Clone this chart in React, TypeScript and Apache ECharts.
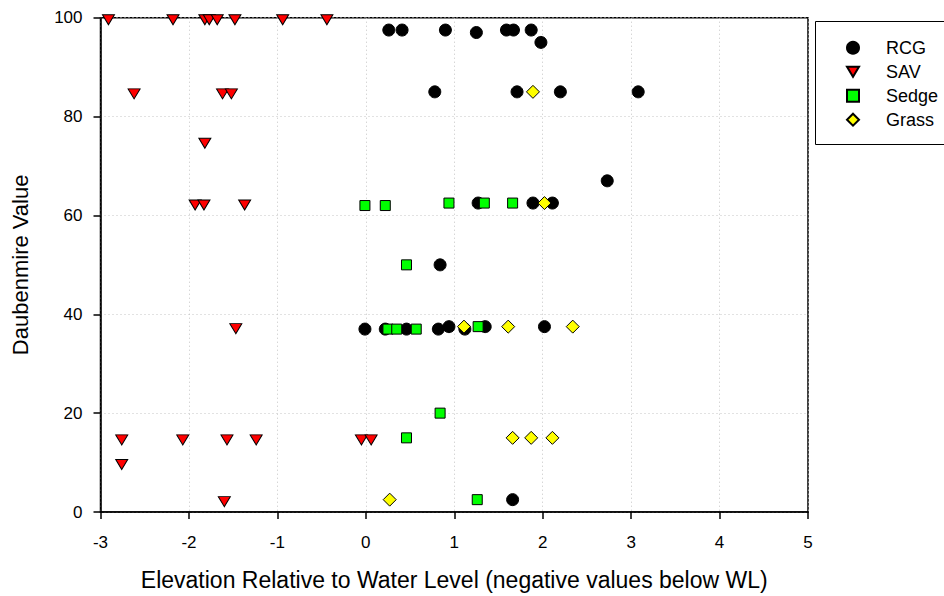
import React, { useEffect, useRef } from "react";
import * as echarts from "echarts";

const xTicks = [-3, -2, -1, 0, 1, 2, 3, 4, 5];
const yTicks = [0, 20, 40, 60, 80, 100];

const seriesNames = ["RCG", "SAV", "Sedge", "Grass"];

const rcgData: [number, number][] = [
  [0.26, 97.5], [0.41, 97.5], [0.9, 97.5], [1.25, 97], [1.59, 97.5], [1.67, 97.5], [1.87, 97.5], [1.98, 95],
  [0.78, 85], [1.71, 85], [2.2, 85], [3.08, 85],
  [2.73, 67],
  [1.27, 62.5], [1.89, 62.5], [2.11, 62.5],
  [0.84, 50],
  [-0.01, 37], [0.22, 37], [0.46, 37], [0.82, 37], [0.94, 37.5], [1.12, 37], [1.35, 37.5], [2.02, 37.5],
  [1.66, 2.5],
];

const savData: [number, number][] = [
  [-2.91, 100], [-2.18, 100], [-1.82, 100], [-1.77, 100], [-1.68, 100], [-1.48, 100], [-0.94, 100], [-0.44, 100],
  [-2.62, 85], [-1.62, 85], [-1.52, 85],
  [-1.82, 75],
  [-1.93, 62.5], [-1.83, 62.5], [-1.37, 62.5],
  [-1.47, 37.5],
  [-2.76, 15], [-2.07, 15], [-1.57, 15], [-1.24, 15], [-0.05, 15], [0.06, 15],
  [-2.76, 10],
  [-1.6, 2.5],
];

const sedgeData: [number, number][] = [
  [-0.01, 62], [0.22, 62],
  [0.94, 62.5], [1.34, 62.5], [1.66, 62.5],
  [0.46, 50],
  [0.25, 37], [0.35, 37], [0.57, 37],
  [1.27, 37.5],
  [0.84, 20],
  [0.46, 15],
  [1.26, 2.5],
];

const grassData: [number, number][] = [
  [1.89, 85],
  [2.02, 62.5],
  [1.11, 37.5], [1.61, 37.5], [2.34, 37.5],
  [1.66, 15], [1.87, 15], [2.11, 15],
  [0.27, 2.5],
];

const FONT = "'Liberation Sans', Arial, sans-serif";
const DOWN_TRIANGLE = "path://M0,0L12,0L6,10Z";

export default function App() {
  const ref = useRef<HTMLDivElement>(null);

  useEffect(() => {
    if (!ref.current) return;
    const chart = echarts.init(ref.current, undefined, { renderer: "svg" });
    const border = { borderColor: "#000", borderWidth: 1, opacity: 1 };
    chart.setOption({
      animation: false,
      backgroundColor: "#fff",
      textStyle: { fontFamily: FONT },
      grid: {
        left: 100.5,
        right: 136,
        top: 17.7,
        bottom: 83.3,
        show: true,
        borderColor: "#000",
        borderWidth: 1.5,
        backgroundColor: "transparent",
      },
      xAxis: {
        type: "value",
        min: xTicks[0],
        max: xTicks[xTicks.length - 1],
        interval: 1,
        name: "Elevation Relative to Water Level (negative values below WL)",
        nameLocation: "middle",
        nameGap: 56,
        nameTextStyle: { fontSize: 23, color: "#000", fontFamily: FONT },
        axisLine: { onZero: false, lineStyle: { color: "#000", width: 1.5 } },
        axisTick: { show: true, inside: false, length: 7, lineStyle: { color: "#000", width: 1.5 } },
        axisLabel: { fontSize: 17, color: "#000", margin: 22, fontFamily: FONT },
        splitLine: { show: true, lineStyle: { color: "#c4c4c4", type: [1, 3], width: 1 } },
      },
      yAxis: {
        type: "value",
        min: yTicks[0],
        max: yTicks[yTicks.length - 1],
        interval: 20,
        name: "Daubenmire Value",
        nameLocation: "middle",
        nameGap: 69,
        nameTextStyle: { fontSize: 22, color: "#000", fontFamily: FONT },
        axisLine: { onZero: false, lineStyle: { color: "#000", width: 1.5 } },
        axisTick: { show: true, inside: false, length: 7, lineStyle: { color: "#000", width: 1.5 } },
        axisLabel: { fontSize: 17, color: "#000", margin: 18, fontFamily: FONT },
        splitLine: { show: true, lineStyle: { color: "#c4c4c4", type: [1, 3], width: 1 } },
      },
      legend: {
        orient: "vertical",
        left: 841,
        top: 33.7,
        itemWidth: 12,
        itemHeight: 12,
        itemGap: 6,
        symbolKeepAspect: true,
        textStyle: { fontSize: 18, color: "#000", fontFamily: FONT, padding: [0, 0, 0, 22] },
        data: [
          { name: seriesNames[0], icon: "circle" },
          { name: seriesNames[1], icon: DOWN_TRIANGLE },
          { name: seriesNames[2], icon: "rect" },
          { name: seriesNames[3], icon: "diamond" },
        ],
      },
      graphic: [
        {
          type: "rect",
          shape: { x: 815.5, y: 21.5, width: 200, height: 123 },
          style: { fill: "transparent", stroke: "#000", lineWidth: 1 },
          z: 10,
        },
      ],
      series: [
        {
          name: seriesNames[0],
          type: "scatter",
          data: rcgData,
          symbol: "circle",
          symbolSize: 12,
          itemStyle: { color: "#000", ...border },
          z: 2,
        },
        {
          name: seriesNames[1],
          type: "scatter",
          data: savData,
          symbol: "triangle",
          symbolRotate: 180,
          symbolSize: [12, 10],
          symbolOffset: [0, 2],
          itemStyle: { color: "#ff0000", ...border },
          z: 3,
        },
        {
          name: seriesNames[2],
          type: "scatter",
          data: sedgeData,
          symbol: "rect",
          symbolSize: 10,
          itemStyle: { color: "#00ff00", ...border },
          z: 4,
        },
        {
          name: seriesNames[3],
          type: "scatter",
          data: grassData,
          symbol: "diamond",
          symbolSize: 13,
          itemStyle: { color: "#ffff00", ...border },
          z: 5,
        },
      ],
    });
    return () => chart.dispose();
  }, []);

  return (
    <div
      ref={ref}
      style={{ position: "absolute", left: 0, top: 0, width: 944, height: 596 }}
    />
  );
}
